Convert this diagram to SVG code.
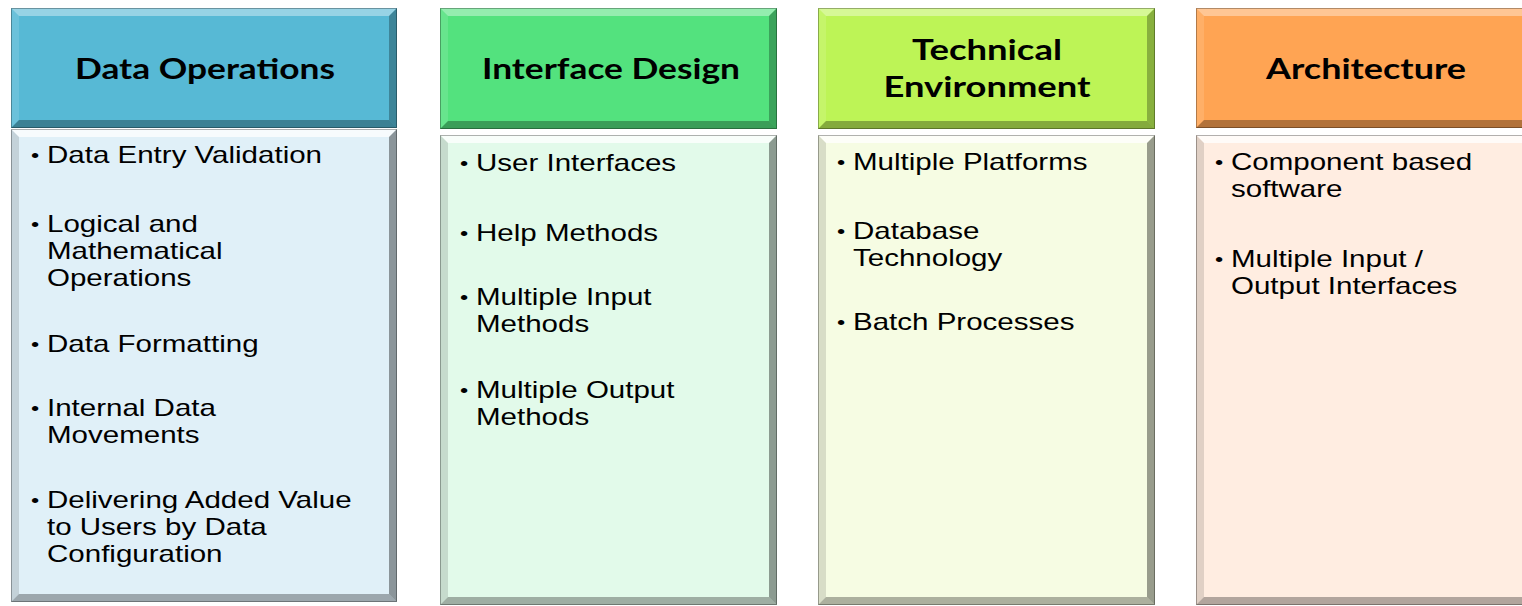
<svg xmlns="http://www.w3.org/2000/svg" width="1522" height="606" viewBox="0 0 1522 606">
<style>
.hl{fill:#fff;fill-opacity:.38}
.hs{fill:#fff;fill-opacity:.12}
.hr{fill:#000;fill-opacity:.28}
.hb{fill:#000;fill-opacity:.3}
.bl{fill:#fff;fill-opacity:.75}
.bs{fill:#000;fill-opacity:.12}
.br{fill:#000;fill-opacity:.38}
.bb{fill:#000;fill-opacity:.3}
.edge{fill:none;stroke:#000;stroke-opacity:.3;stroke-width:1}
.ht{font-family:Lato,"Open Sans",sans-serif;font-weight:700;font-size:29px;fill:#000;text-anchor:middle}
.bt{font-family:"Liberation Sans",Arial,sans-serif;font-size:24px;fill:#000}
.bu{font-size:19px}
</style>
<rect width="1522" height="606" fill="#fff"/>

<g id="col1-header">
<rect x="11" y="8" width="386" height="120" fill="#57B9D5"/>
<polygon class="hl" points="11,8 397,8 389,16 19,16"/>
<polygon class="hs" points="11,8 19,16 19,120 11,128"/>
<polygon class="hr" points="397,8 397,128 389,120 389,16"/>
<polygon class="hb" points="11,128 397,128 389,120 19,120"/>
<rect class="edge" x="11.5" y="8.5" width="385" height="119"/>
<text class="ht" x="205" y="79" textLength="260" lengthAdjust="spacingAndGlyphs">Data Operations</text>
</g>
<g id="col1-body">
<rect x="11" y="129" width="386" height="473" fill="#E0F0F8"/>
<polygon class="bl" points="11,129 397,129 389,137 19,137"/>
<polygon class="bs" points="11,129 19,137 19,594 11,602"/>
<polygon class="br" points="397,129 397,602 389,594 389,137"/>
<polygon class="bb" points="11,602 397,602 389,594 19,594"/>
<rect class="edge" x="11.5" y="129.5" width="385" height="472"/>
<g class="bt" transform="translate(47,0) scale(1.23,1)">
<text class="bu" x="-13" y="162">•</text><text x="0" y="163">Data Entry Validation</text>
<text class="bu" x="-13" y="231">•</text><text x="0" y="232">Logical and</text>
<text x="0" y="259">Mathematical</text>
<text x="0" y="286">Operations</text>
<text class="bu" x="-13" y="351">•</text><text x="0" y="352">Data Formatting</text>
<text class="bu" x="-13" y="415">•</text><text x="0" y="416">Internal Data</text>
<text x="0" y="443">Movements</text>
<text class="bu" x="-13" y="507">•</text><text x="0" y="508">Delivering Added Value</text>
<text x="0" y="535">to Users by Data</text>
<text x="0" y="562">Configuration</text>
</g>
</g>

<g id="col2-header">
<rect x="440" y="8" width="337" height="121" fill="#53E27E"/>
<polygon class="hl" points="440,8 777,8 769,16 448,16"/>
<polygon class="hs" points="440,8 448,16 448,121 440,129"/>
<polygon class="hr" points="777,8 777,129 769,121 769,16"/>
<polygon class="hb" points="440,129 777,129 769,121 448,121"/>
<rect class="edge" x="440.5" y="8.5" width="336" height="120"/>
<text class="ht" x="611" y="79" textLength="258" lengthAdjust="spacingAndGlyphs">Interface Design</text>
</g>
<g id="col2-body">
<rect x="440" y="135" width="337" height="470" fill="#E2FAEA"/>
<polygon class="bl" points="440,135 777,135 769,143 448,143"/>
<polygon class="bs" points="440,135 448,143 448,597 440,605"/>
<polygon class="br" points="777,135 777,605 769,597 769,143"/>
<polygon class="bb" points="440,605 777,605 769,597 448,597"/>
<rect class="edge" x="440.5" y="135.5" width="336" height="469"/>
<g class="bt" transform="translate(476,0) scale(1.23,1)">
<text class="bu" x="-13" y="170">•</text><text x="0" y="171">User Interfaces</text>
<text class="bu" x="-13" y="240">•</text><text x="0" y="241">Help Methods</text>
<text class="bu" x="-13" y="304">•</text><text x="0" y="305">Multiple Input</text>
<text x="0" y="332">Methods</text>
<text class="bu" x="-13" y="397">•</text><text x="0" y="398">Multiple Output</text>
<text x="0" y="425">Methods</text>
</g>
</g>

<g id="col3-header">
<rect x="818" y="8" width="337" height="121" fill="#BDF456"/>
<polygon class="hl" points="818,8 1155,8 1147,16 826,16"/>
<polygon class="hs" points="818,8 826,16 826,121 818,129"/>
<polygon class="hr" points="1155,8 1155,129 1147,121 1147,16"/>
<polygon class="hb" points="818,129 1155,129 1147,121 826,121"/>
<rect class="edge" x="818.5" y="8.5" width="336" height="120"/>
<text class="ht" x="987" y="60" textLength="150" lengthAdjust="spacingAndGlyphs">Technical</text>
<text class="ht" x="987" y="97" textLength="207" lengthAdjust="spacingAndGlyphs">Environment</text>
</g>
<g id="col3-body">
<rect x="818" y="135" width="337" height="470" fill="#F6FCE3"/>
<polygon class="bl" points="818,135 1155,135 1147,143 826,143"/>
<polygon class="bs" points="818,135 826,143 826,597 818,605"/>
<polygon class="br" points="1155,135 1155,605 1147,597 1147,143"/>
<polygon class="bb" points="818,605 1155,605 1147,597 826,597"/>
<rect class="edge" x="818.5" y="135.5" width="336" height="469"/>
<g class="bt" transform="translate(853,0) scale(1.23,1)">
<text class="bu" x="-13" y="169">•</text><text x="0" y="170">Multiple Platforms</text>
<text class="bu" x="-13" y="238">•</text><text x="0" y="239">Database</text>
<text x="0" y="266">Technology</text>
<text class="bu" x="-13" y="329">•</text><text x="0" y="330">Batch Processes</text>
</g>
</g>

<g id="col4-header">
<rect x="1196" y="8" width="337" height="120" fill="#FFA453"/>
<polygon class="hl" points="1196,8 1533,8 1525,16 1204,16"/>
<polygon class="hs" points="1196,8 1204,16 1204,120 1196,128"/>
<polygon class="hr" points="1533,8 1533,128 1525,120 1525,16"/>
<polygon class="hb" points="1196,128 1533,128 1525,120 1204,120"/>
<rect class="edge" x="1196.5" y="8.5" width="336" height="119"/>
<text class="ht" x="1366" y="79" textLength="200" lengthAdjust="spacingAndGlyphs">Architecture</text>
</g>
<g id="col4-body">
<rect x="1196" y="135" width="337" height="470" fill="#FFEDE1"/>
<polygon class="bl" points="1196,135 1533,135 1525,143 1204,143"/>
<polygon class="bs" points="1196,135 1204,143 1204,597 1196,605"/>
<polygon class="br" points="1533,135 1533,605 1525,597 1525,143"/>
<polygon class="bb" points="1196,605 1533,605 1525,597 1204,597"/>
<rect class="edge" x="1196.5" y="135.5" width="336" height="469"/>
<g class="bt" transform="translate(1231,0) scale(1.23,1)">
<text class="bu" x="-13" y="169">•</text><text x="0" y="170">Component based</text>
<text x="0" y="197">software</text>
<text class="bu" x="-13" y="266">•</text><text x="0" y="267">Multiple Input /</text>
<text x="0" y="294">Output Interfaces</text>
</g>
</g>

<g id="connectors"></g>
</svg>
